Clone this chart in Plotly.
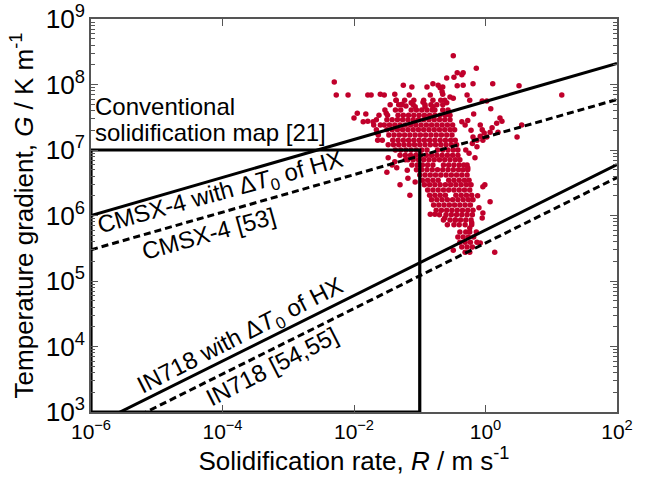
import plotly.graph_objects as go

# ---------------- data ----------------
# dense cloud: one G level (log10 G) per row, R values (log10 R) in that row
core_log_G = [7.76, 7.69, 7.61, 7.53, 7.46, 7.38, 7.31, 7.23, 7.15, 7.08, 7.00, 6.92,
              6.85, 6.77, 6.70, 6.62, 6.54, 6.47, 6.39, 6.31, 6.24, 6.16, 6.08, 6.01,
              5.93, 5.86, 5.75, 5.67, 5.59, 5.52, 5.44]
core_log_R_rows = [
    [-1.36, -1.23, -1.09, -0.94, -0.80, -0.68],
    [-1.45, -1.27, -1.10, -0.92, -0.83, -0.74, -0.65],
    [-1.53, -1.37, -1.29, -1.13, -1.05, -0.97, -0.89, -0.81, -0.65, -0.57],
    [-1.62, -1.49, -1.33, -1.25, -1.17, -1.09, -1.01, -0.93, -0.85, -0.77, -0.69, -0.61, -0.54],
    [-1.66, -1.50, -1.42, -1.34, -1.26, -1.18, -1.10, -1.02, -0.94, -0.86, -0.78, -0.70, -0.62, -0.54],
    [-1.70, -1.54, -1.46, -1.38, -1.30, -1.22, -1.14, -1.06, -0.98, -0.90, -0.82, -0.74, -0.66, -0.58, -0.50],
    [-1.66, -1.50, -1.42, -1.34, -1.26, -1.18, -1.10, -1.02, -0.94, -0.86, -0.78, -0.70, -0.62, -0.54, -0.47],
    [-1.63, -1.47, -1.39, -1.31, -1.23, -1.15, -1.07, -0.99, -0.91, -0.83, -0.75, -0.67, -0.59, -0.51],
    [-1.57, -1.41, -1.33, -1.25, -1.17, -1.09, -1.01, -0.93, -0.85, -0.77, -0.69, -0.61, -0.53, -0.46],
    [-1.48, -1.40, -1.32, -1.24, -1.16, -1.08, -1.00, -0.92, -0.84, -0.76, -0.68, -0.60, -0.52, -0.44],
    [-1.37, -1.29, -1.21, -1.13, -1.05, -0.97, -0.89, -0.73, -0.65, -0.57, -0.49, -0.42],
    [-1.30, -1.22, -1.14, -1.06, -0.98, -0.90, -0.82, -0.74, -0.66, -0.58, -0.50, -0.42],
    [-1.18, -1.10, -1.02, -0.94, -0.86, -0.78, -0.70, -0.62, -0.54, -0.46, -0.39],
    [-1.12, -1.04, -0.96, -0.88, -0.80, -0.64, -0.56, -0.48, -0.40, -0.33],
    [-1.05, -0.97, -0.89, -0.81, -0.73, -0.65, -0.57, -0.49, -0.41, -0.34, -0.27],
    [-1.00, -0.92, -0.84, -0.76, -0.68, -0.60, -0.52, -0.44, -0.36, -0.28],
    [-0.96, -0.88, -0.80, -0.72, -0.56, -0.48, -0.40, -0.32, -0.25],
    [-0.93, -0.85, -0.77, -0.69, -0.61, -0.53, -0.45, -0.37, -0.29, -0.22],
    [-0.88, -0.80, -0.72, -0.64, -0.56, -0.48, -0.40, -0.32, -0.24],
    [-0.85, -0.77, -0.69, -0.61, -0.45, -0.37, -0.29, -0.21],
    [-0.82, -0.74, -0.66, -0.58, -0.50, -0.42, -0.34, -0.26, -0.19],
    [-0.79, -0.71, -0.63, -0.55, -0.47, -0.39, -0.31, -0.23],
    [-0.75, -0.67, -0.59, -0.51, -0.43, -0.35, -0.27, -0.19],
    [-0.70, -0.60, -0.52, -0.44, -0.36, -0.28, -0.20],
    [-0.64, -0.54, -0.46, -0.38, -0.30, -0.22],
    [-0.58, -0.48, -0.40, -0.31, -0.21],
    [-0.39, -0.30, -0.24],
    [-0.42, -0.34, -0.26, -0.18],
    [-0.39, -0.31, -0.23, -0.13],
    [-0.36, -0.28, -0.20],
    [-0.31, -0.24],
]
# scattered points (log10 R, log10 G)
sparse_log_R = [-0.49, -0.14, -0.34, -0.43, -0.48, -0.59, -0.36, -2.30, -2.27, -2.09,
                -1.79, -1.74, -1.60, -1.54, -1.38, -1.25, -1.12, -1.16, -0.89, -0.80,
                -0.72, -0.69, -0.65, -0.43, -0.34, -0.19, 0.11, 0.51, 1.16, -0.84,
                -0.66, -0.65, -0.54, -0.49, -0.62, -0.28, -0.24, -0.05, 0.02, 0.08,
                -0.95, -0.92, -0.80, -0.77, -0.59, -1.36, -1.32, -1.27, -1.21, -1.13,
                -1.07, -1.51, -1.82, -1.95, -2.00, -1.86, -1.79, -1.71, -1.60, 0.22,
                0.25, 0.17, 0.55, 0.48, -0.08, -0.13, -0.13, -0.02, 0.02, 0.10,
                0.07, 0.19, -0.08, -0.05, -0.19, -0.16, -0.28, -0.27, -0.04, -0.36,
                -0.31, -1.65, -1.64, -1.48, -1.38, -1.42, -1.35, -1.50, -1.18, -1.07,
                -1.19, -0.04, -0.01, 0.07, -0.84, -0.77, -0.62, -0.46, -0.04, -0.05,
                -0.21, -0.24, -0.14, -0.08, 0.14, -0.49, -0.20, -0.25, -0.30, -0.22,
                -0.27, -0.18, -1.22, -1.30, -1.15, -0.12, -0.10]
sparse_log_G = [8.44, 8.25, 8.18, 8.18, 8.11, 8.10, 8.15, 8.04, 7.84, 7.84,
                7.84, 7.84, 7.85, 7.84, 7.85, 7.99, 7.96, 7.84, 7.96, 8.01,
                7.99, 7.95, 7.96, 7.98, 7.99, 8.01, 8.01, 7.98, 7.84, 7.84,
                7.89, 7.85, 7.81, 7.79, 7.76, 7.84, 7.76, 7.75, 7.75, 7.63,
                7.73, 7.66, 7.66, 7.61, 7.72, 7.76, 7.69, 7.70, 7.67, 7.72,
                7.66, 7.56, 7.55, 7.56, 7.49, 7.43, 7.44, 7.43, 7.38, 7.49,
                7.44, 7.41, 7.38, 7.20, 7.21, 7.15, 7.05, 7.26, 7.20, 7.34,
                7.27, 7.27, 7.38, 7.31, 7.20, 6.88, 6.77, 6.73, 7.15, 7.43,
                7.38, 7.26, 7.15, 6.88, 6.82, 6.77, 6.73, 6.66, 6.57, 6.51,
                6.69, 6.44, 6.47, 6.21, 6.02, 6.02, 5.96, 5.93, 6.04, 5.96,
                5.89, 5.81, 5.75, 5.58, 5.44, 5.47, 7.10, 6.95, 7.00, 7.30,
                7.45, 7.55, 6.85, 6.47, 6.31, 6.30, 6.12]

# model lines (R in m/s, G in K/m)
cmsx_hx_R = [1e-6, 1e2]
cmsx_hx_G = [1.0e6, 2.1e8]
cmsx_53_R = [1e-6, 1e2]
cmsx_53_G = [3.0e5, 5.9e7]
in718_hx_R = [1e-6, 1e2]
in718_hx_G = [6.0e2, 6.0e6]
in718_54_R = [1e-6, 1e2]
in718_54_G = [3.8e2, 3.8e6]
conv_map_R = [1e-6, 1e-6, 0.1, 0.1, 1e-6]
conv_map_G = [1e3, 1e7, 1e7, 1e3, 1e3]

x_tick_vals = [1e-6, 1e-4, 1e-2, 1e0, 1e2]
x_tick_text = ["10<sup>−6</sup>", "10<sup>−4</sup>", "10<sup>−2</sup>", "10<sup>0</sup>", "10<sup>2</sup>"]

labels = ["Conventional",
          "solidification map [21]",
          "CMSX-4 with Δ<i>T</i><sub>0</sub> of HX",
          "CMSX-4 [53]",
          "IN718 with Δ<i>T</i><sub>0</sub> of HX",
          "IN718 [54,55]"]
label_log_R = [-5.97, -5.97, -4.03, -4.21, -3.72, -3.25]
label_log_G = [7.66, 7.26, 6.33, 5.72, 4.16, 3.69]
label_angle = [0, 0, -15.5, -15.5, -27, -27]
label_xanchor = ["left", "left", "center", "center", "center", "center"]

# ---------------- figure ----------------
pts_R, pts_G = [], []
for g, row in zip(core_log_G, core_log_R_rows):
    for r in row:
        pts_R.append(10 ** r)
        pts_G.append(10 ** g)
for r, g in zip(sparse_log_R, sparse_log_G):
    pts_R.append(10 ** r)
    pts_G.append(10 ** g)

FONT = "Liberation Sans, Arial, Helvetica, sans-serif"
fig = go.Figure()
fig.add_trace(go.Scatter(x=pts_R, y=pts_G, mode="markers",
                         marker=dict(color="#C0002B", size=5.5, line=dict(width=0)),
                         showlegend=False))
solid = dict(color="black", width=3)
dashed = dict(color="black", width=3, dash="7px,4px")
fig.add_trace(go.Scatter(x=conv_map_R, y=conv_map_G, mode="lines", line=dict(color="black", width=3.2), showlegend=False))
fig.add_trace(go.Scatter(x=cmsx_hx_R, y=cmsx_hx_G, mode="lines", line=solid, showlegend=False))
fig.add_trace(go.Scatter(x=cmsx_53_R, y=cmsx_53_G, mode="lines", line=dashed, showlegend=False))
fig.add_trace(go.Scatter(x=in718_hx_R, y=in718_hx_G, mode="lines", line=solid, showlegend=False))
fig.add_trace(go.Scatter(x=in718_54_R, y=in718_54_G, mode="lines", line=dashed, showlegend=False))

for i, txt in enumerate(labels):
    fig.add_annotation(x=label_log_R[i], y=label_log_G[i], xref="x", yref="y",
                       text=txt, showarrow=False, textangle=label_angle[i],
                       xanchor=label_xanchor[i], yanchor="middle", align="left",
                       font=dict(family=FONT, size=24, color="black"))

axis_common = dict(type="log", showgrid=False, zeroline=False, showline=True,
                   linecolor="#555555", linewidth=1.5, mirror="ticks", automargin=False,
                   ticks="inside", tickcolor="#555555", tickwidth=1.2, ticklen=7,
                   exponentformat="power", tickfont=dict(family=FONT, size=21, color="black"))
fig.update_xaxes(**axis_common, range=[-6, 2], tickmode="array",
                 tickvals=x_tick_vals, ticktext=x_tick_text,
                 title=dict(text="Solidification rate, <i>R</i> / m s<sup>-1</sup>",
                            font=dict(family=FONT, size=26, color="black"), standoff=8))
fig.update_yaxes(**axis_common, range=[3, 9], dtick=1,
                 minor=dict(ticks="inside", ticklen=4, tickcolor="#555555", showgrid=False, dtick="D1"),
                 title=dict(text="Temperature gradient, <i>G</i> / K m<sup>-1</sup>",
                            font=dict(family=FONT, size=26, color="black"), standoff=5))
fig.update_layout(width=649, height=483, margin=dict(l=91, r=32, t=19, b=71),
                  paper_bgcolor="white", plot_bgcolor="white",
                  font=dict(family=FONT, color="black"))
fig.write_html("out.html")
